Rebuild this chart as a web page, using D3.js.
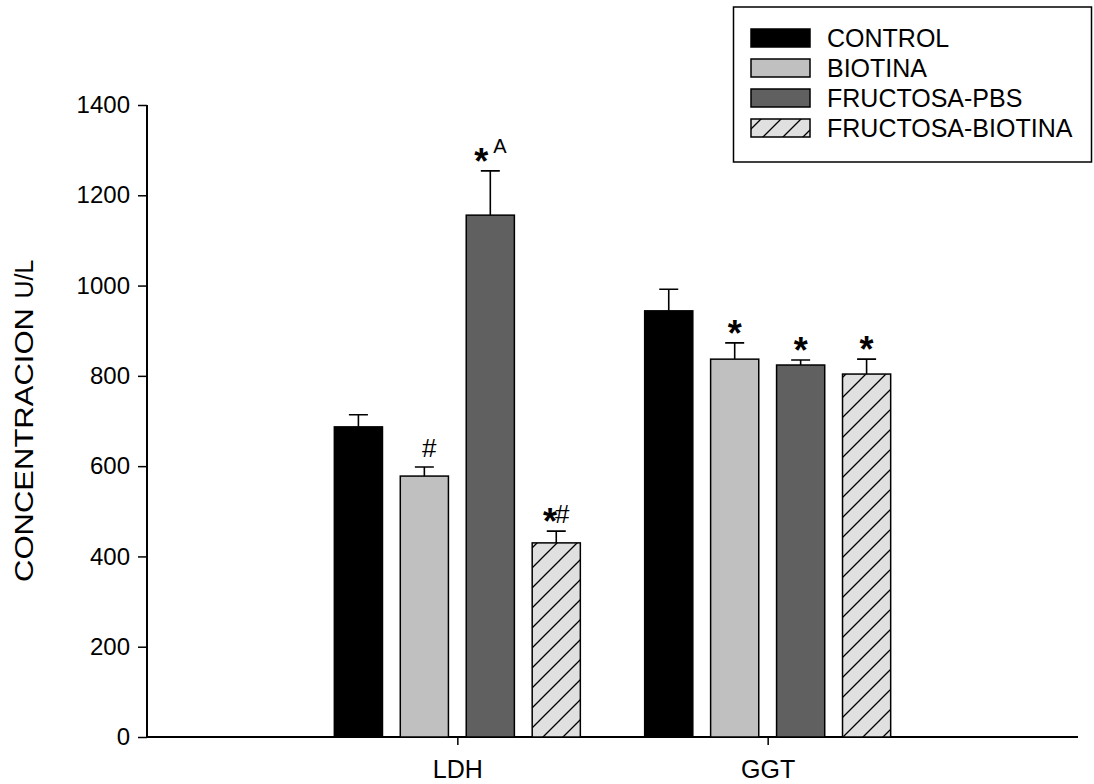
<!DOCTYPE html>
<html>
<head>
<meta charset="utf-8">
<script src="https://cdn.jsdelivr.net/npm/d3@7"></script>
<style>
  body { margin: 0; background: #fff; }
  svg { font-family: "Liberation Sans", Arial, sans-serif; }
</style>
</head>
<body>
<div id="container"></div>
<script>
/* CONSTANTS AND GLOBALS */
const width = 1094;
const height = 784;
const margin = { top: 105, right: 16, bottom: 47, left: 147 };

/* DATA */
const groups = ["LDH", "GGT"];
const series = ["CONTROL", "BIOTINA", "FRUCTOSA-PBS", "FRUCTOSA-BIOTINA"];
const ldhMeans = [687, 578, 1156, 430];
const ldhErrors = [27, 20, 98, 26];
const ldhMarks = ["", "#", "*A", "*#"];
const ggtMeans = [944, 837, 824, 804];
const ggtErrors = [48, 36, 11, 33];
const ggtMarks = ["", "*", "*", "*"];
const yTicks = [0, 200, 400, 600, 800, 1000, 1200, 1400];

const fills = ["#000000", "#c0c0c0", "#606060", "url(#hatch)"];

const data = [];
groups.forEach((g, gi) => {
  const means = gi === 0 ? ldhMeans : ggtMeans;
  const errs = gi === 0 ? ldhErrors : ggtErrors;
  const marks = gi === 0 ? ldhMarks : ggtMarks;
  series.forEach((s, si) => {
    data.push({ group: g, series: s, value: means[si], err: errs[si], mark: marks[si], i: si });
  });
});

const svg = d3.select("#container")
  .append("svg")
  .attr("width", width)
  .attr("height", height)
  .style("display", "block");

// hatch pattern for FRUCTOSA-BIOTINA
const defs = svg.append("defs");
const pat = defs.append("pattern")
  .attr("id", "hatch")
  .attr("patternUnits", "userSpaceOnUse")
  .attr("width", 20)
  .attr("height", 20);
pat.append("rect").attr("width", 20).attr("height", 20).attr("fill", "#e0e0e0");
pat.append("path")
  .attr("d", "M-5,5 L5,-5 M0,20 L20,0 M15,25 L25,15")
  .attr("stroke", "#000")
  .attr("stroke-width", 1.3);

/* SCALES */
const xScale = d3.scalePoint()
  .domain(groups)
  .range([margin.left, width - margin.right])
  .padding(1);

const inner = d3.scaleBand()
  .domain(series)
  .range([-123, 123])
  .paddingInner(0.27);

const yScale = d3.scaleLinear()
  .domain([0, 1400])
  .range([height - margin.bottom, margin.top]);

/* AXES */
const yAxis = d3.axisLeft(yScale)
  .tickValues(yTicks)
  .tickFormat(d3.format("d"))
  .tickSize(9)
  .tickPadding(8);
const gy = svg.append("g")
  .attr("transform", `translate(${margin.left}, 0)`)
  .call(yAxis);
gy.select(".domain").attr("stroke-width", 2).attr("d", `M0,${yScale(0)}V${yScale(1400)}`);
gy.selectAll(".tick line").attr("stroke-width", 1.5);
gy.selectAll(".tick text")
  .attr("font-family", "Liberation Sans, Arial, sans-serif")
  .attr("font-size", 24)
  .attr("fill", "#000");

const xAxis = d3.axisBottom(xScale)
  .tickSize(8)
  .tickPadding(15);
const gx = svg.append("g")
  .attr("transform", `translate(0, ${yScale(0)})`)
  .call(xAxis);
gx.select(".domain").attr("stroke-width", 2).attr("d", `M${margin.left},0H${width - margin.right}`);
gx.selectAll(".tick line").attr("stroke-width", 1.5);
gx.selectAll(".tick text")
  .attr("font-family", "Liberation Sans, Arial, sans-serif")
  .attr("font-size", 25)
  .attr("fill", "#000");

// y axis title (the long word is stretched in the original)
svg.append("text")
  .attr("transform", "translate(33, 445) rotate(-90)")
  .attr("text-anchor", "middle")
  .attr("font-size", 25)
  .attr("textLength", 274)
  .attr("lengthAdjust", "spacingAndGlyphs")
  .text("CONCENTRACION");
svg.append("text")
  .attr("transform", "translate(33, 279) rotate(-90)")
  .attr("text-anchor", "middle")
  .attr("font-size", 25)
  .text("U/L");

/* BARS */
const bx = d => xScale(d.group) + inner(d.series);
const bc = d => bx(d) + inner.bandwidth() / 2;

svg.selectAll(".err")
  .data(data)
  .join("path")
  .attr("class", "err")
  .attr("fill", "none")
  .attr("stroke", "#000")
  .attr("stroke-width", 1.6)
  .attr("d", d => `M${bc(d)},${yScale(d.value)}V${yScale(d.value + d.err)}M${bc(d) - 9.5},${yScale(d.value + d.err)}h19`);

svg.selectAll(".bar")
  .data(data)
  .join("rect")
  .attr("class", "bar")
  .attr("x", bx)
  .attr("y", d => yScale(d.value))
  .attr("width", inner.bandwidth())
  .attr("height", d => yScale(0) - yScale(d.value))
  .attr("fill", d => fills[d.i])
  .attr("stroke", "#000")
  .attr("stroke-width", 1.5);

/* SIGNIFICANCE MARKS */
const marks = svg.selectAll(".mark")
  .data(data.filter(d => d.mark))
  .join("text")
  .attr("class", "mark")
  .attr("x", d => bc(d) + (d.mark === "#" ? 5 : 0))
  .attr("y", d => yScale(d.value + d.err) - 10)
  .attr("text-anchor", "middle");

marks.each(function(d) {
  const t = d3.select(this);
  let shift = 0;
  d.mark.split("").forEach(ch => {
    let target = 0, size = 26, weight = "normal", dx = 0;
    if (ch === "*") { target = 13; size = 36; weight = "bold"; }
    if (ch === "#" && d.mark.length > 1) { target = 2; dx = -2; }
    if (ch === "A") { target = -8; size = 20; dx = 5; }
    t.append("tspan")
      .attr("dy", target - shift)
      .attr("dx", dx)
      .attr("font-size", size)
      .attr("font-weight", weight)
      .text(ch);
    shift = target;
  });
});

/* LEGEND */
const legend = svg.append("g");
legend.append("rect")
  .attr("x", 733.5)
  .attr("y", 7)
  .attr("width", 358)
  .attr("height", 155)
  .attr("fill", "#fff")
  .attr("stroke", "#000")
  .attr("stroke-width", 1.5);

const rowY = d3.scalePoint().domain(series).range([38, 128]);

legend.selectAll(".swatch")
  .data(series)
  .join("rect")
  .attr("class", "swatch")
  .attr("x", 751)
  .attr("y", d => rowY(d) - 9)
  .attr("width", 59)
  .attr("height", 18)
  .attr("fill", (d, i) => fills[i])
  .attr("stroke", "#000")
  .attr("stroke-width", 1.5);

legend.selectAll(".ltext")
  .data(series)
  .join("text")
  .attr("class", "ltext")
  .attr("x", 827)
  .attr("y", d => rowY(d) + 9)
  .attr("font-size", 25)
  .text(d => d);
</script>
</body>
</html>
